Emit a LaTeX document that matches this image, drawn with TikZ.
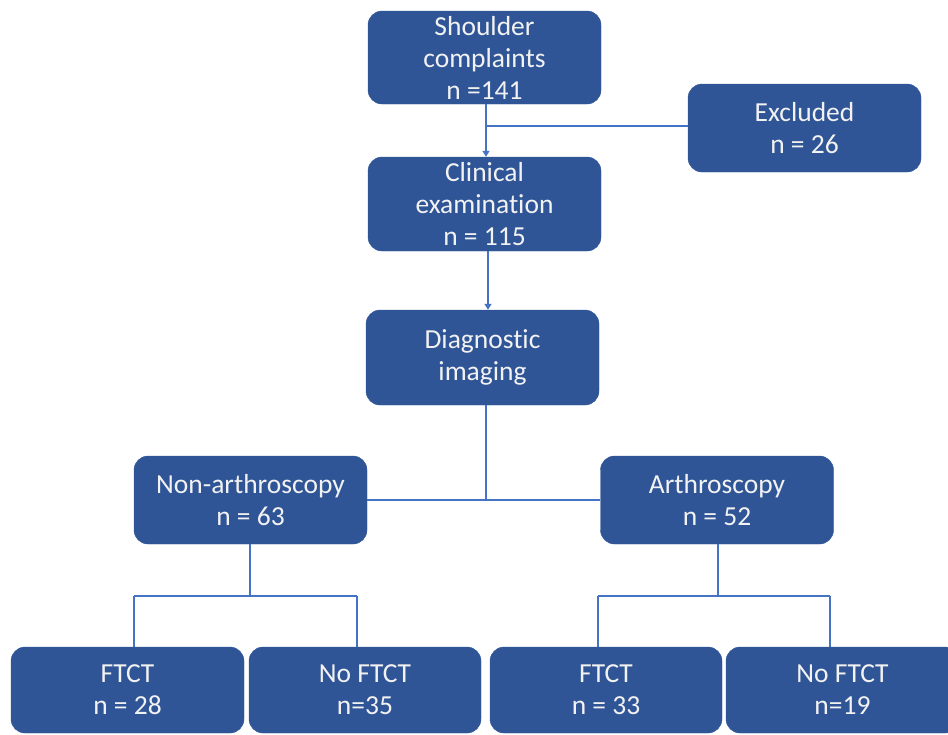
\documentclass[tikz,border=0pt]{standalone}
\usepackage{fontspec}
\setmainfont{Carlito}[Ligatures={NoCommon,NoRare,NoDiscretionary}]
\usetikzlibrary{arrows.meta}
\definecolor{boxfill}{HTML}{2F5597}
\definecolor{linecol}{HTML}{4472C4}
\definecolor{txt}{HTML}{F2F2F2}
\begin{document}
\begin{tikzpicture}[x=1pt,y=-1pt,
  box/.style={draw=boxfill, fill=boxfill, rounded corners=14pt, minimum width=233pt, inner sep=0pt,
    text=txt, align=center, font=\fontsize{27.5}{32}\selectfont},
  conn/.style={draw=linecol, line width=1.4pt},
  arr/.style={conn, -{Triangle[width=7pt,length=6pt]}}]
\useasboundingbox (0,0) rectangle (948,734);
\node[box, minimum height=93pt] (shoulder) at (484.5,57.5) {Shoulder\\complaints\\n =141};
\node[box, minimum height=88pt] (excl) at (804.5,128) {Excluded\\n = 26};
\node[box, minimum height=94pt] (clin) at (484.5,204) {Clinical\\examination\\n = 115};
\node[box, minimum height=95pt] (diag) at (482.5,357.5) {Diagnostic\\imaging};
\node[box, minimum height=88pt] (non) at (250.5,500) {Non-arthroscopy\\n = 63};
\node[box, minimum height=88pt] (arth) at (717,500) {Arthroscopy\\n = 52};
\node[box, minimum height=86pt] (f1) at (127.5,690) {FTCT\\n = 28};
\node[box, minimum height=86pt, minimum width=232pt] (nf1) at (365,690) {No FTCT\\n=35};
\node[box, minimum height=86pt, minimum width=232pt] (f2) at (606,690) {FTCT\\n = 33};
\node[box, minimum height=86pt] (nf2) at (842.5,690) {No FTCT\\n=19};
% connectors
\coordinate (j1) at (486,126);
\draw[arr] (shoulder.south -| j1) -- (clin.north -| j1);
\draw[conn] (j1) -- (j1 -| excl.west);
\draw[arr] (clin.south -| 488,0) -- (diag.north -| 488,0);
\coordinate (j2) at (486,500);
\draw[conn] (diag.south -| j2) -- (j2);
\draw[conn] (non.east) -- (arth.west);
\coordinate (j3) at (250,596);
\draw[conn] (non.south -| j3) -- (j3);
\draw[conn] (134,596) -- (357,596);
\draw[conn] (134,596) -- (f1.north -| 134,0);
\draw[conn] (357,596) -- (nf1.north -| 357,0);
\coordinate (j4) at (718,596);
\draw[conn] (arth.south -| j4) -- (j4);
\draw[conn] (598,596) -- (830,596);
\draw[conn] (598,596) -- (f2.north -| 598,0);
\draw[conn] (830,596) -- (nf2.north -| 830,0);
\end{tikzpicture}
\end{document}
